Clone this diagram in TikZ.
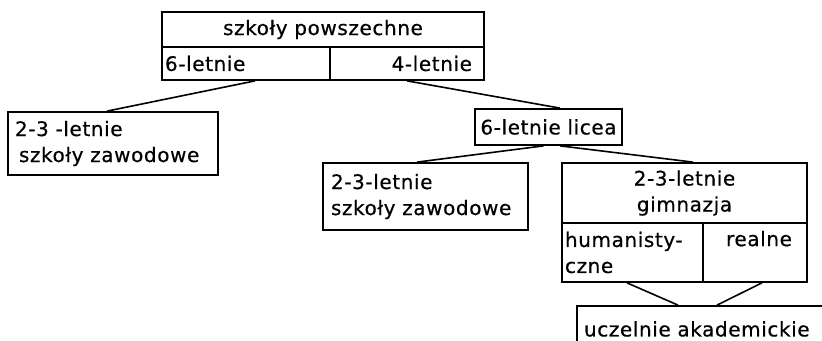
\documentclass[tikz,border=0pt]{standalone}
\usepackage{fontspec}
\usetikzlibrary{calc}
\newfontfamily\lettering[LetterSpace=3,WordSpace=1.6,FakeBold=0.5]{DejaVu Sans}

\tikzset{
  cellbox/.style n args={3}{draw, line width=1.3pt, rectangle,
    minimum width=#1*0.75pt, minimum height=#2*0.75pt,
    inner xsep=#3*0.75pt, inner ysep=0pt,
    text width=(#1-2*#3)*0.75pt,
    font=\lettering\fontsize{15}{19.5}\selectfont},
  conn/.style={line width=1.2pt}
}

\begin{document}
\begin{tikzpicture}[x=0.75pt,y=0.75pt,yscale=-1,xscale=1]
\clip (0,0) rectangle (822,341);

% szkoly powszechne
\node[cellbox={322}{35}{4}, align=center] (powsz) at (323,29.5) {szkoły powszechne};
\node[cellbox={168}{33}{3}, align=left] (six) at (246,63.5) {6-letnie};
\node[cellbox={154}{33}{12}, align=right] (four) at (407,63.5) {4-letnie};

% left branch
\node[cellbox={210}{63}{7}, align=left] (zawodL) at (113,143.5) {2-3 -letnie\\\hspace*{3pt}szkoły zawodowe};

% licea
\node[cellbox={147}{36}{4}, align=center] (licea) at (548.5,127) {6-letnie licea};
\node[cellbox={205}{67}{8}, align=left] (zawodR) at (425.5,196.5) {2-3-letnie\\szkoły zawodowe};

% gimnazja
\node[cellbox={245}{60}{4}, align=center] (gimn) at (684.5,193) {2-3-letnie\\gimnazja};
\node[cellbox={141}{59}{3}, align=left] (human) at (632.5,252.5) {humanisty-\\czne};
\node[cellbox={104}{59}{4}, align=center, text depth=21pt] (real) at (755,252.5) {\hspace*{6pt}realne};

% uczelnie
\node[cellbox={258}{46}{7}, align=left] (uczel) at (706,329) {uczelnie akademickie};

% connectors
\draw[conn] ($(six.south)+(9,0)$) -- ($(zawodL.north)+(-6,0)$);
\draw[conn] (four.south) -- ($(licea.north)+(11.5,0)$);
\draw[conn] ($(licea.south)+(-5,0)$) -- ($(zawodR.north)+(-8.5,0)$);
\draw[conn] ($(licea.south)+(11.5,0)$) -- ($(gimn.north)+(8.5,0)$);
\draw[conn] ($(human.south)+(-5.5,0)$) -- ($(uczel.north)+(-28,0)$);
\draw[conn] ($(real.south)+(7,0)$) -- ($(uczel.north)+(11,0)$);

\end{tikzpicture}
\end{document}
